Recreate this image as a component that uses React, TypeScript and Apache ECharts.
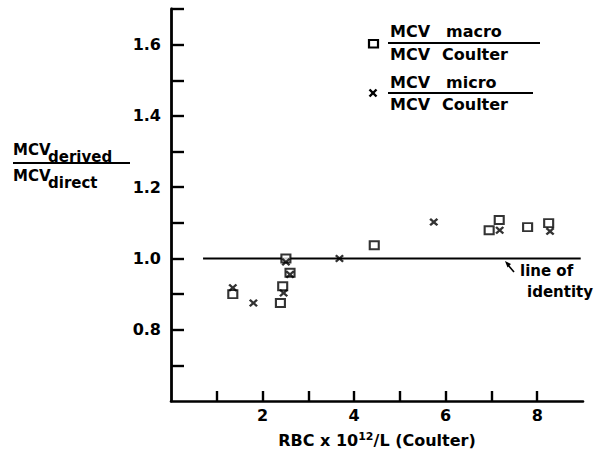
import React, { useEffect, useRef } from "react";
import * as echarts from "echarts";

// ---- data ----
const macroX = [1.35, 2.39, 2.44, 2.51, 2.6, 4.44, 6.95, 7.17, 7.79, 8.25];
const macroY = [0.9, 0.875, 0.922, 1.0, 0.96, 1.037, 1.079, 1.108, 1.088, 1.099];
const microX = [1.35, 1.8, 2.46, 2.51, 2.6, 3.68, 5.74, 7.18, 8.28];
const microY = [0.918, 0.875, 0.903, 0.99, 0.955, 1.0, 1.102, 1.079, 1.076];
const identityX = [0.7, 8.95];
const identityY = [1.0, 1.0];
const xTickValues = [1, 2, 3, 4, 5, 6, 7, 8];
const xLabelValues = [2, 4, 6, 8];
const yTickValues = [0.7, 0.8, 0.9, 1.0, 1.1, 1.2, 1.3, 1.4, 1.5, 1.6, 1.7];
const yLabelValues = [0.8, 1.0, 1.2, 1.4, 1.6];

const FONT = '"DejaVu Sans", "Liberation Sans", sans-serif';
const INK = "#000";

const crossPath =
  "path://M0,1.9L1.9,0L5,3.1L8.1,0L10,1.9L6.9,5L10,8.1L8.1,10L5,6.9L1.9,10L0,8.1L3.1,5Z";

function txt(text: string, x: number, y: number, size: number, align = "left") {
  return {
    type: "text",
    x,
    y,
    silent: true,
    style: {
      text,
      fill: INK,
      font: `bold ${size}px ${FONT}`,
      align,
      verticalAlign: "middle",
      textAlign: align,
      textVerticalAlign: "middle",
    },
  };
}

function hline(x1: number, x2: number, y: number, w = 2) {
  return {
    type: "line",
    silent: true,
    shape: { x1, y1: y, x2, y2: y },
    style: { stroke: INK, lineWidth: w },
  };
}

export default function App() {
  const ref = useRef<HTMLDivElement>(null);
  useEffect(() => {
    if (!ref.current) return;
    const chart = echarts.init(ref.current, null, { renderer: "svg" });
    const option: any = {
      animation: false,
      backgroundColor: "#fff",
      grid: { left: 171, right: 22, top: 9, bottom: 52, containLabel: false },
      xAxis: {
        type: "value",
        min: 0,
        max: 9,
        splitLine: { show: false },
        axisLine: { show: true, onZero: false, lineStyle: { color: INK, width: 2.6 } },
        axisTick: {
          show: true,
          inside: true,
          length: 10,
          customValues: xTickValues,
          lineStyle: { color: INK, width: 2.4 },
        },
        axisLabel: {
          customValues: xLabelValues,
          margin: 6,
          color: INK,
          fontFamily: FONT,
          fontWeight: "bold",
          fontSize: 16,
        },
        name: "RBC x 10{sup|12}/L (Coulter)",
        nameLocation: "middle",
        nameGap: 30,
        nameTextStyle: {
          color: INK,
          fontFamily: FONT,
          fontWeight: "bold",
          fontSize: 16,
          lineHeight: 19,
          rich: {
            sup: {
              color: INK,
              fontFamily: FONT,
              fontWeight: "bold",
              fontSize: 11,
              verticalAlign: "top",
              lineHeight: 19,
            },
          },
        },
      },
      yAxis: {
        type: "value",
        min: 0.6,
        max: 1.7,
        splitLine: { show: false },
        axisLine: { show: true, onZero: false, lineStyle: { color: INK, width: 2.8 } },
        axisTick: {
          show: true,
          inside: true,
          length: 13,
          customValues: yTickValues,
          lineStyle: { color: INK, width: 2.4 },
        },
        axisLabel: {
          customValues: yLabelValues,
          margin: 10,
          color: INK,
          fontFamily: FONT,
          fontWeight: "bold",
          fontSize: 16,
          formatter: (v: number) => v.toFixed(1),
        },
      },
      series: [
        {
          type: "line",
          data: identityX.map((x, i) => [x, identityY[i]]),
          symbol: "none",
          lineStyle: { color: INK, width: 2 },
          z: 1,
        },
        {
          type: "scatter",
          name: "macro",
          data: macroX.map((x, i) => [x, macroY[i]]),
          symbol: "rect",
          symbolSize: [9, 8],
          itemStyle: { color: "#fff", borderColor: INK, borderWidth: 2 },
          z: 2,
        },
        {
          type: "scatter",
          name: "micro",
          data: microX.map((x, i) => [x, microY[i]]),
          symbol: crossPath,
          symbolSize: [9, 8],
          itemStyle: { color: INK },
          z: 3,
        },
      ],
      graphic: [
        // y-axis name as a fraction
        txt("MCV", 13, 150, 15),
        txt("derived", 48, 157, 15),
        hline(13, 130, 163, 2),
        txt("MCV", 13, 176, 15),
        txt("direct", 48, 183, 15),
        // legend
        {
          type: "rect",
          silent: true,
          shape: { x: 369, y: 40, width: 9, height: 7.5 },
          style: { fill: "#fff", stroke: INK, lineWidth: 2.2 },
        },
        txt("MCV", 390, 31, 16),
        txt("macro", 446, 31, 16),
        hline(388, 540, 43, 2),
        txt("MCV", 390, 54, 16),
        txt("Coulter", 442, 54, 16),
        {
          type: "line",
          silent: true,
          shape: { x1: 369.5, y1: 89.5, x2: 376.5, y2: 96.5 },
          style: { stroke: INK, lineWidth: 2.4 },
        },
        {
          type: "line",
          silent: true,
          shape: { x1: 376.5, y1: 89.5, x2: 369.5, y2: 96.5 },
          style: { stroke: INK, lineWidth: 2.4 },
        },
        txt("MCV", 390, 82, 16),
        txt("micro", 446, 82, 16),
        hline(388, 533, 93, 2),
        txt("MCV", 390, 104, 16),
        txt("Coulter", 442, 104, 16),
        // line of identity annotation
        {
          type: "line",
          silent: true,
          shape: { x1: 514, y1: 272, x2: 508, y2: 265 },
          style: { stroke: INK, lineWidth: 1.6 },
        },
        {
          type: "polygon",
          silent: true,
          shape: { points: [[505, 261], [511, 264], [507.5, 267.5]] },
          style: { fill: INK },
        },
        txt("line of", 520, 271, 15),
        txt("identity", 527, 292, 15),
      ],
    };
    chart.setOption(option);
    return () => chart.dispose();
  }, []);
  return (
    <div
      ref={ref}
      style={{ position: "fixed", left: 0, top: 0, width: 605, height: 455, background: "#fff" }}
    />
  );
}
